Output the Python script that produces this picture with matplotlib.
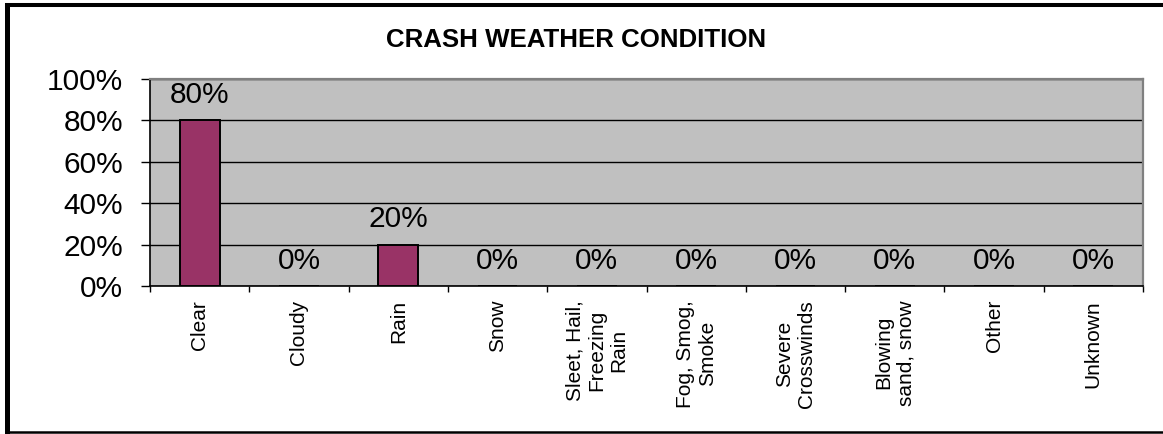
import matplotlib
matplotlib.use("Agg")
import matplotlib.pyplot as plt
from matplotlib.lines import Line2D

plt.rcParams['font.family'] = ['Liberation Sans', 'DejaVu Sans']

title = "CRASH WEATHER CONDITION"
categories = ["Clear", "Cloudy", "Rain", "Snow", "Sleet, Hail,\nFreezing\nRain",
              "Fog, Smog,\nSmoke", "Severe\nCrosswinds", "Blowing\nsand, snow",
              "Other", "Unknown"]
shares = [80, 0, 20, 0, 0, 0, 0, 0, 0, 0]
y_ticks = [0, 20, 40, 60, 80, 100]
y_tick_labels = ["0%", "20%", "40%", "60%", "80%", "100%"]

W, H, DPI = 1163, 434, 100
fig = plt.figure(figsize=(W / DPI, H / DPI), dpi=DPI)
fig.patch.set_facecolor("white")

# plot area
ax = fig.add_axes([150 / W, 1 - 286 / H, (1143 - 150) / W, (286 - 79) / H])
ax.set_facecolor("#C0C0C0")

x = list(range(len(categories)))
ax.bar(x, shares, width=0.4, color="#993366", edgecolor="black", linewidth=1.4, zorder=3)

for xi, v in zip(x, shares):
    ax.annotate(f"{v}%", (xi, v), xytext=(0, 12.5), textcoords="offset points",
                ha="center", va="baseline", fontsize=21.5, zorder=4)

ax.set_xlim(-0.5, len(categories) - 0.5)
ax.set_ylim(0, 100)

ax.set_yticks(y_ticks)
ax.set_yticklabels(y_tick_labels, fontsize=21.5)
ax.tick_params(axis="y", direction="out", length=6.5, width=1, color="black", pad=13)

# category boundaries get the tick marks, category centres carry the labels
ax.set_xticks([i - 0.5 for i in range(len(categories) + 1)])
ax.set_xticklabels([])
ax.tick_params(axis="x", which="major", direction="out", length=4.5, width=1, color="black")
ax.set_xticks(x, minor=True)
ax.set_xticklabels(categories, minor=True, rotation=90, fontsize=15,
                   ha="center", va="top", multialignment="center")
ax.tick_params(axis="x", which="minor", length=0, pad=10)

ax.yaxis.grid(True, color="black", linewidth=1.0, zorder=1)
ax.set_axisbelow(True)

for side in ("left", "bottom"):
    ax.spines[side].set_color("black")
    ax.spines[side].set_linewidth(1.2)
for side in ("top", "right"):
    ax.spines[side].set_color("#808080")
    ax.spines[side].set_linewidth(1.6)

fig.text(576 / W, 1 - 40 / H, title, ha="center", va="center",
         fontsize=18.6, fontweight="bold")

# chart frame
def fx(px):
    return px / W

def fy(py):
    return 1 - py / H

fig.add_artist(Line2D([fx(6.5), fx(6.5)], [fy(5), fy(431.5)], color="black", linewidth=3.6,
                      transform=fig.transFigure, solid_capstyle="projecting"))
fig.add_artist(Line2D([fx(6.5), fx(1170)], [fy(5), fy(5)], color="black", linewidth=2.9,
                      transform=fig.transFigure))
fig.add_artist(Line2D([fx(6.5), fx(1170)], [fy(431.5), fy(431.5)], color="black", linewidth=1.8,
                      transform=fig.transFigure))

fig.savefig("out.png", dpi=DPI)
